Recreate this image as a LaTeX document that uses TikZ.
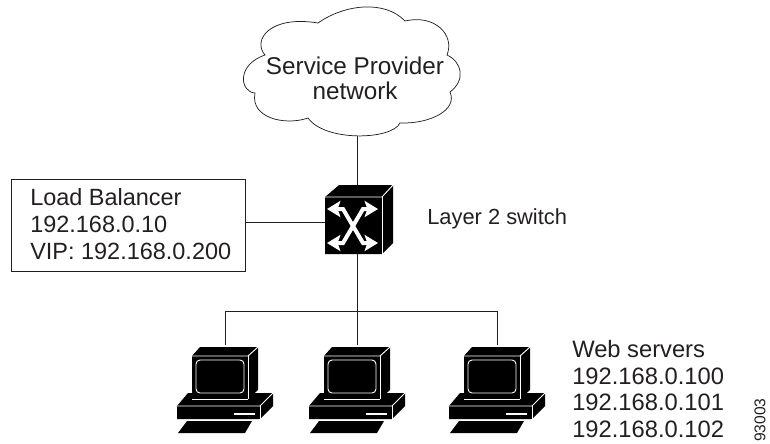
\documentclass[tikz,border=0pt]{standalone}
\usepackage{fontspec}
\setmainfont{Liberation Sans}
\usetikzlibrary{arrows.meta}
\definecolor{inkgray}{HTML}{231F20}
\tikzset{
  lbl/.style={inner sep=0pt,text=inkgray,font=\fontsize{17.6}{20.25}\selectfont},
  wire/.style={draw=inkgray,line width=0.55pt},
  edge/.style={draw=white,line width=0.7pt},
  xarrow/.style={white,line width=3pt,{Stealth[length=10pt,width=12pt,inset=2pt]}-{Stealth[length=10pt,width=12pt,inset=2pt]}},
  websrv/.pic={
    \coordinate (-top) at (0,0);
    % base
    \fill[black] (-37,48) -- (48,48) -- (48,61) -- (35,74) -- (-48,74) -- (-48,61) -- cycle;
    \draw[edge] (-48,61) -- (35,61) -- (48,48);
    \draw[edge] (35,61) -- (35,74);
    \draw[edge,line width=1.3pt] (9,69) -- (30,69);
    % monitor
    \fill[black] (-25,2) -- (33,2) -- (33,45) -- (23,54) -- (-33,54) -- (-33,11) -- cycle;
    \draw[edge] (-33,11) -- (23,11) -- (33,2);
    \draw[edge] (23,11) -- (23,54);
    \draw[edge] (-33,54) -- (23,54);
    \draw[edge,rounded corners=3pt] (-29,15) rectangle (19,48);
    % keyboard
    \fill[black] (-38,76) -- (27,76) -- (20,88) -- (-47,88) -- cycle;
  }
}
\begin{document}
\begin{tikzpicture}[x=0.75pt,y=-0.75pt]
\useasboundingbox (0,0) rectangle (770,443);
% cloud
\draw[wire] (318,23) .. controls (345,4) and (385,0) .. (405,21)
  .. controls (435,14) and (455,35) .. (447,55)
  .. controls (462,62) and (466,80) .. (450,92)
  .. controls (458,110) and (430,124) .. (400,123)
  .. controls (392,140) and (325,142) .. (308,118)
  .. controls (285,126) and (250,118) .. (255,93)
  .. controls (240,92) and (236,65) .. (265,55)
  .. controls (252,40) and (270,15) .. (318,23);
\coordinate (cloudbot) at (357,136);
\node[lbl,font=\fontsize{18.2}{21}\selectfont] (cloudtop) at (355,66) {Service Provider};
\node[lbl,font=\fontsize{18.2}{21}\selectfont] (cloudlow) at (355,91) {network};

% switch
\fill[black] (339,185) -- (393,185) -- (393,243) -- (382,254) -- (325,254) -- (325,197) -- cycle;
\draw[edge] (325,197) -- (382,197) -- (393,185);
\draw[edge] (382,197) -- (382,254);
\node[minimum width=42.75pt,minimum height=42.75pt,inner sep=0pt] (sw) at (353.5,225.5) {};
\draw[xarrow] (327,209) -- (343,209) -- (363,243) -- (378,243);
\draw[xarrow] (327,243) -- (343,243) -- (363,209) -- (378,209);
\coordinate (swtop) at (357,185);
\coordinate (swbot) at (357,254);
\node[lbl,anchor=west,font=\fontsize{16.4}{20}\selectfont] (swname) at (427,219) {Layer 2 switch};

% load balancer
\node[draw=inkgray,line width=0.55pt,minimum width=175.5pt,minimum height=69pt,inner sep=0pt] (lb) at (128,225) {};
\node[lbl,anchor=west,align=left] (lbtext) at (30,224) {Load Balancer\\192.168.0.10\\VIP: 192.168.0.200};

% servers
\pic (srva) at (225,345) {websrv};
\pic (srvb) at (357,345) {websrv};
\pic (srvc) at (497,345) {websrv};
\coordinate (busmid) at (357,311);

\draw[wire] (cloudbot) -- (swtop);
\draw[wire] ([yshift=2pt]lb.east) -- ([yshift=2pt]lb.east -| sw.west);
\draw[wire] (swbot) -- (srvb-top);
\draw[wire] (srva-top) -- (srva-top |- busmid) -- (srvc-top |- busmid) -- (srvc-top);

\node[lbl,anchor=north west,align=left,font=\fontsize{17.8}{19.9}\selectfont] (webname) at (572,340) {Web servers\\192.168.0.100\\192.168.0.101\\192.168.0.102};
\node[lbl,rotate=90,font=\fontsize{11.7}{14}\selectfont] (figno) at (760,420) {93003};
\end{tikzpicture}
\end{document}
